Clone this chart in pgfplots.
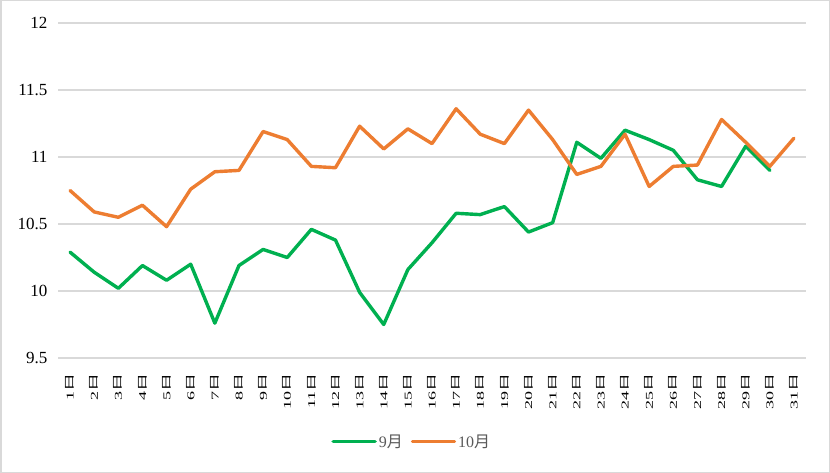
\documentclass[border=0pt]{standalone}
\usepackage{fontspec}
\setmainfont{Liberation Serif}
\newfontfamily\cjk{Noto Sans CJK SC}
\usepackage{pgfplots}
\pgfplotsset{compat=1.18}
\definecolor{sepgreen}{HTML}{00B050}
\definecolor{octorange}{HTML}{ED7D31}
\definecolor{gridgray}{HTML}{D9D9D9}
\definecolor{legtext}{HTML}{595959}
\begin{document}
\begin{tikzpicture}
\path[use as bounding box] (0,0) rectangle (830bp,473bp);
\draw[gridgray, line width=1.5bp] (0.75bp,0.75bp) rectangle (829.25bp,472.25bp);
\begin{axis}[
  at={(58bp,115bp)}, anchor=south west,
  scale only axis, width=748bp, height=335bp,
  xmin=0.5, xmax=31.5, ymin=9.5, ymax=12,
  ytick={9.5,10,10.5,11,11.5,12},
  xtick={1,...,31},
  xticklabels={1{\cjk 日},2{\cjk 日},3{\cjk 日},4{\cjk 日},5{\cjk 日},6{\cjk 日},7{\cjk 日},8{\cjk 日},9{\cjk 日},10{\cjk 日},
    11{\cjk 日},12{\cjk 日},13{\cjk 日},14{\cjk 日},15{\cjk 日},16{\cjk 日},17{\cjk 日},18{\cjk 日},19{\cjk 日},20{\cjk 日},
    21{\cjk 日},22{\cjk 日},23{\cjk 日},24{\cjk 日},25{\cjk 日},26{\cjk 日},27{\cjk 日},28{\cjk 日},29{\cjk 日},30{\cjk 日},31{\cjk 日}},
  axis line style={draw=none},
  major tick length=0pt,
  ymajorgrids, grid style={gridgray, line width=1.5bp},
  /pgf/number format/assume math mode=true,
  yticklabel style={font=\fontsize{17bp}{19bp}\selectfont, xshift=-7bp},
  xticklabel style={font=\fontsize{18bp}{20bp}\selectfont, rotate=90, yscale=0.58, anchor=east, xshift=-12bp},
  legend columns=2,
  legend style={draw=none, at={(0.473,-0.25)}, anchor=center,
    font=\fontsize{16bp}{18bp}\selectfont, text=legtext,
    /tikz/every even column/.append style={column sep=6bp}},
  legend image code/.code={\draw[#1] (0bp,0bp) -- (42bp,0bp);},
  every axis plot/.append style={line width=3.4bp, line join=round, line cap=round},
]
\addplot[sepgreen] coordinates {
(1,10.29) (2,10.14) (3,10.02) (4,10.19) (5,10.08) (6,10.20) (7,9.76) (8,10.19) (9,10.31) (10,10.25)
(11,10.46) (12,10.38) (13,9.99) (14,9.75) (15,10.16) (16,10.36) (17,10.58) (18,10.57) (19,10.63) (20,10.44)
(21,10.51) (22,11.11) (23,10.99) (24,11.20) (25,11.13) (26,11.05) (27,10.83) (28,10.78) (29,11.08) (30,10.90)
};
\addlegendentry{9{\cjk 月}}
\addplot[octorange] coordinates {
(1,10.75) (2,10.59) (3,10.55) (4,10.64) (5,10.48) (6,10.76) (7,10.89) (8,10.90) (9,11.19) (10,11.13)
(11,10.93) (12,10.92) (13,11.23) (14,11.06) (15,11.21) (16,11.10) (17,11.36) (18,11.17) (19,11.10) (20,11.35)
(21,11.13) (22,10.87) (23,10.93) (24,11.17) (25,10.78) (26,10.93) (27,10.94) (28,11.28) (29,11.11) (30,10.93)
(31,11.14)
};
\addlegendentry{10{\cjk 月}}
\end{axis}
\end{tikzpicture}
\end{document}
